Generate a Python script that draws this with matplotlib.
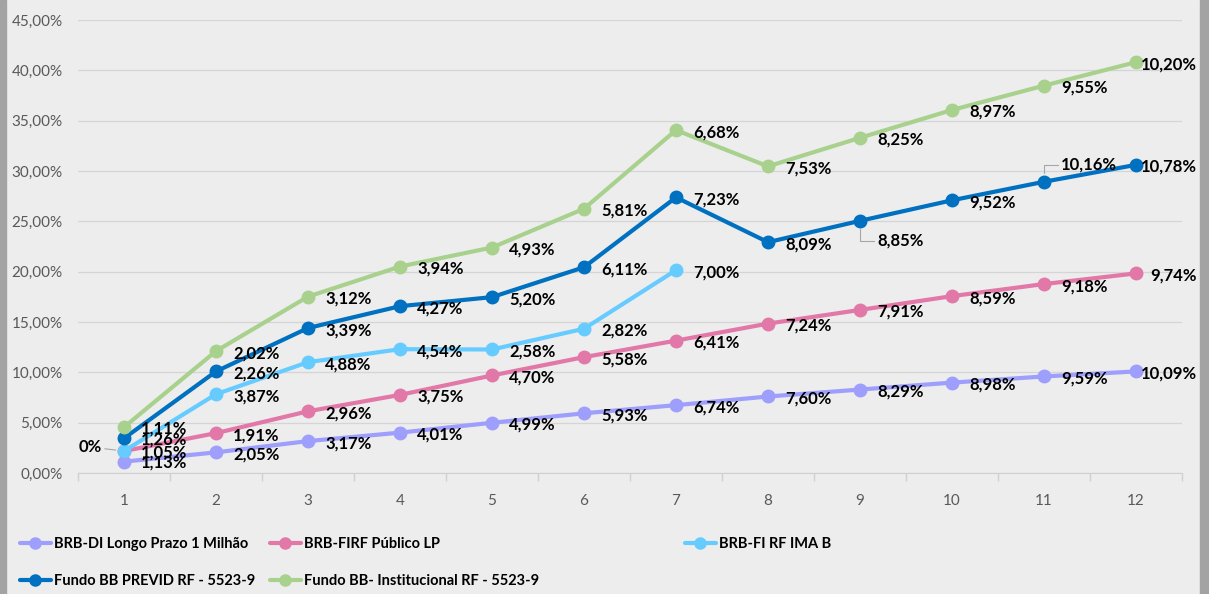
import numpy as np
import matplotlib.pyplot as plt
from matplotlib.patches import Rectangle

# Rentabilidade acumulada por fundo (%), meses 1..12
meses = np.arange(1, 13)
brb_di = [1.13, 2.05, 3.17, 4.01, 4.99, 5.93, 6.74, 7.60, 8.29, 8.98, 9.59, 10.09]
brb_firf = [1.05, 1.91, 2.96, 3.75, 4.70, 5.58, 6.41, 7.24, 7.91, 8.59, 9.18, 9.74]
brb_ima_b = [0.00, 3.87, 4.88, 4.54, 2.58, 2.82, 7.00, np.nan, np.nan, np.nan, np.nan, np.nan]
bb_previd = [1.26, 2.26, 3.39, 4.27, 5.20, 6.11, 7.23, 8.09, 8.85, 9.52, 10.16, 10.78]
bb_inst = [1.11, 2.02, 3.12, 3.94, 4.93, 5.81, 6.68, 7.53, 8.25, 8.97, 9.55, 10.20]

nomes = ['BRB-DI Longo Prazo 1 Milhão', 'BRB-FIRF Público LP', 'BRB-FI RF IMA B',
         'Fundo BB PREVID RF - 5523-9', 'Fundo BB- Institucional RF - 5523-9']
cores = ['#9E9EFC', '#E278A8', '#66CCFF', '#0070C0', '#A9D18E']
series = [brb_di, brb_firf, brb_ima_b, bb_previd, bb_inst]

fonte = ['Lato', 'DejaVu Sans']
fundo = '#EDEDED'

fig = plt.figure(figsize=(12.09, 5.94), dpi=100, facecolor=fundo)
ax = fig.add_axes([78 / 1209, 1 - 473 / 594, (1182 - 78) / 1209, (473 - 20) / 594])
ax.set_facecolor(fundo)

# bordas cinza nas laterais
fig.patches.append(Rectangle((0, 0), 6 / 1209, 1, transform=fig.transFigure,
                             color='#A3A3A3', zorder=0))
fig.patches.append(Rectangle((1200 / 1209, 0), 9 / 1209, 1, transform=fig.transFigure,
                             color='#A3A3A3', zorder=0))


def fmt(v):
    if v == 0:
        return '0%'
    return f'{v:.2f}'.replace('.', ',') + '%'


# linhas empilhadas (como no Excel)
base = np.zeros(12)
handles = []
for i, (vals, nome, cor) in enumerate(zip(series, nomes, cores)):
    v = np.array(vals, dtype=float)
    topo = base + np.nan_to_num(v)
    y = np.where(np.isnan(v), np.nan, topo)
    h, = ax.plot(meses, y, color=cor, lw=3, marker='o', ms=9, zorder=3 + i,
                 solid_capstyle='round', label=nome)
    handles.append(h)
    for m, val, yy in zip(meses, v, y):
        if np.isnan(val):
            continue
        txt = fmt(val)
        kw = dict(textcoords='offset pixels', fontsize=12, fontweight='bold',
                  family=fonte, color='black', va='center', ha='left', zorder=20)
        if m == 12:
            ax.annotate(txt, (m, yy), xytext=(61, -2), **{**kw, 'ha': 'right'})
        elif m == 1 and val == 0:
            ax.annotate(txt, (m, yy), xytext=(-22, 4), **{**kw, 'ha': 'right'},
                        arrowprops=dict(arrowstyle='-', color='#A6A6A6', lw=0.8,
                                        shrinkA=0, shrinkB=6))
        elif m == 1:
            ax.annotate(txt, (m, yy), xytext=(17, -1), **kw)
        elif i == 3 and m == 11:
            ax.annotate(txt, (m, yy), xytext=(17, 17), **kw,
                        arrowprops=dict(arrowstyle='-', color='#A6A6A6', lw=0.8,
                                        shrinkA=0, shrinkB=6,
                                        connectionstyle='angle,angleA=0,angleB=90,rad=0'))
        elif i == 3 and m == 9:
            ax.annotate(txt, (m, yy), xytext=(17, -20), **kw,
                        arrowprops=dict(arrowstyle='-', color='#A6A6A6', lw=0.8,
                                        shrinkA=0, shrinkB=6,
                                        connectionstyle='angle,angleA=0,angleB=90,rad=0'))
        else:
            ax.annotate(txt, (m, yy), xytext=(17, -2), **kw)
    base = topo

# eixos
ax.set_xlim(0.5, 12.5)
ax.set_ylim(0, 45)
ax.set_yticks(np.arange(0, 46, 5))
ax.set_yticklabels([f'{t:.2f}'.replace('.', ',') + '%' for t in np.arange(0, 46, 5)])
ax.set_xticks(meses)
ax.set_xticks(np.arange(0.5, 12.6, 1), minor=True)
ax.tick_params(axis='x', which='major', length=0, pad=15, labelsize=11, labelcolor='#595959')
ax.tick_params(axis='x', which='minor', length=6, color='#D0D0D0', width=1)
ax.tick_params(axis='y', length=0, pad=11, labelsize=11, labelcolor='#595959')
for lb in ax.get_xticklabels() + ax.get_yticklabels():
    lb.set_family(fonte)
ax.grid(axis='y', color='#D5D5D5', lw=0.9)
ax.set_axisbelow(True)
for s in ['top', 'right', 'left']:
    ax.spines[s].set_visible(False)
ax.spines['bottom'].set_color('#D0D0D0')
ax.spines['bottom'].set_zorder(2)

# legenda em três colunas
leg_kw = dict(loc='upper left', frameon=False, borderpad=0, borderaxespad=0,
              handlelength=2.1, handletextpad=0.25, labelspacing=1.55,
              prop=dict(family=fonte, weight='bold', size=10.5))
colunas = [([handles[0], handles[3]], 20), ([handles[1], handles[4]], 270), ([handles[2]], 685)]
for hs, x0 in colunas:
    lg = fig.legend(hs, [h.get_label() for h in hs], bbox_to_anchor=(x0 / 1209, 1 - 537 / 594), **leg_kw)
    for line in lg.get_lines():
        line.set_markersize(8)

fig.savefig('out.png', dpi=100, facecolor=fundo)
